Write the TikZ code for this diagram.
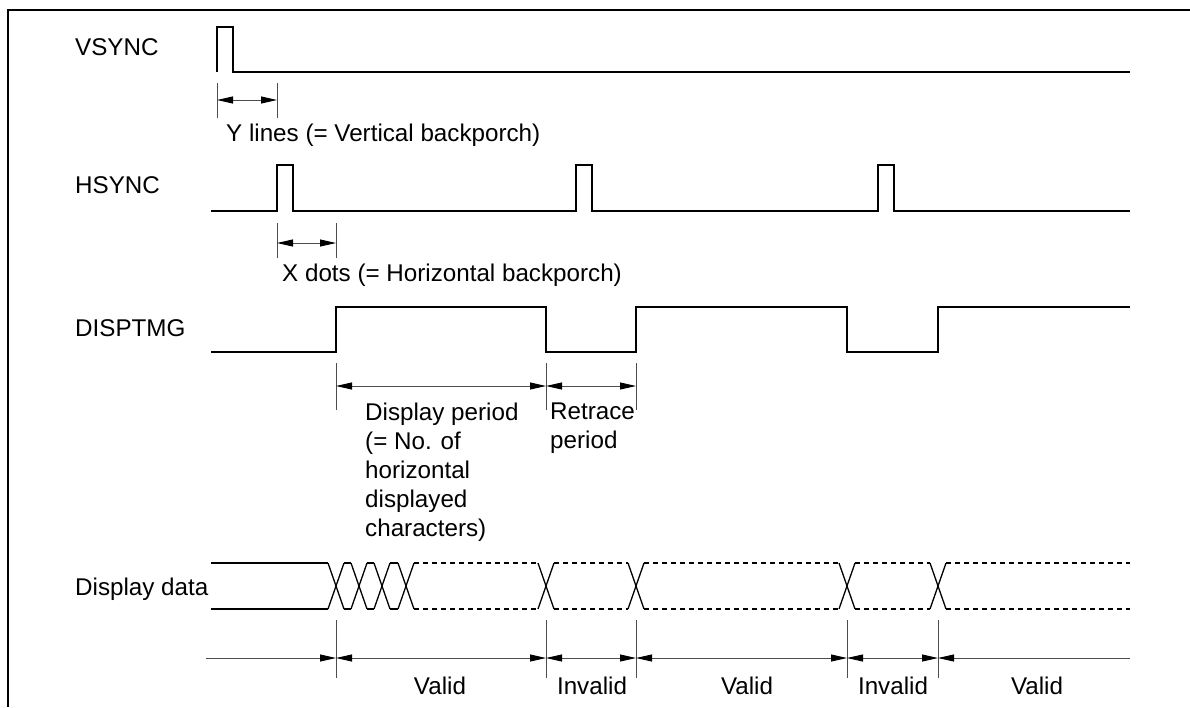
\documentclass[tikz,border=0pt]{standalone}
\usepackage{fontspec}
\setmainfont{Liberation Sans}
\usetikzlibrary{arrows.meta,calc}
\usetikzlibrary{positioning}

\begin{document}
\begin{tikzpicture}[x=1pt,y=-1pt,>={Triangle[length=16pt,width=7pt,black]},line join=miter,
  sig/.style={line width=1.6pt},
  bus/.style={line width=1.3pt},
  dimline/.style={line width=0.9pt,black!70},
  lbl/.style={font=\fontsize{24.2}{29}\selectfont,inner sep=0pt,align=left}]
\useasboundingbox (0,0) rectangle (1190,707);
% frame, top and left edges only
\draw[line width=1.8pt] (1190,10) -- (8,10) -- (8,707);
% signal names
\node[lbl,anchor=base west] (vsync) at (75,55) {VSYNC};
\node[lbl,anchor=base west] (hsync) at (75,193) {HSYNC};
\node[lbl,anchor=base west] (disptmg) at (75,336) {DISPTMG};
\node[lbl,anchor=base west] (ddata) at (75,595) {Display data};
% VSYNC with vertical backporch
\draw[sig] (217,72) -- (217,27) -- (233,27) -- (233,72) -- (1130,72);
\draw[dimline] (217,83) -- (217,118) (277,83) -- (277,118);
\draw[dimline,<->] (217,100) -- (277,100);
\node[lbl,anchor=base west] (ylines) at (226,141) {Y lines (= Vertical backporch)};
% HSYNC with horizontal backporch
\draw[sig] (211,211) \foreach \p in {277,576,878} { -- (\p,211) -- (\p,165) -- ({\p+16},165) -- ({\p+16},211) } -- (1130,211);
\draw[dimline] (277,223) -- (277,258) (336,223) -- (336,258);
\draw[dimline,<->] (277,243) -- (336,243);
\node[lbl,anchor=base west] (xdots) at (282,281) {X dots (= Horizontal backporch)};
% DISPTMG
\draw[sig] (211,352) -- (336,352) -- (336,307) -- (546,307) -- (546,352) -- (636,352) -- (636,307)
  -- (847,307) -- (847,352) -- (938,352) -- (938,307) -- (1130,307);
\foreach \t in {336,546,636} \draw[dimline] (\t,363) -- (\t,410);
\draw[dimline,<->] (336,386) -- (546,386);
\draw[dimline,<->] (546,386) -- (636,386);
\node[lbl,anchor=north west] (dispper) at (365,403) {Display period\\(= No. of\\horizontal\\displayed\\characters)};
\node[lbl,anchor=north west] (retrace) at (550,403) {Retrace\\period};
% display data bus
\draw[bus] (211,563) -- (328,563) (211,609) -- (328,609);
\foreach \c in {336,359,382,406,546,636,847,938}
  \draw[bus] ({\c-8},563) -- ({\c+8},609) ({\c-8},609) -- ({\c+8},563);
\foreach \a/\b in {344/351,367/374,390/398}
  \draw[bus] (\a,563) -- (\b,563) (\a,609) -- (\b,609);
\foreach \a/\b in {414/538,554/628,644/839,855/930,946/1130}
  \draw[bus,dash pattern=on 5pt off 4pt] (\a,563) -- (\b,563) (\a,609) -- (\b,609);
% valid / invalid periods
\foreach \t in {336,546,636,847,938} \draw[dimline] (\t,620) -- (\t,678);
\draw[dimline,->] (206,658) -- (336,658);
\foreach \a/\b in {336/546,546/636,636/847,847/938} \draw[dimline,<->] (\a,658) -- (\b,658);
\draw[dimline,<-] (938,658) -- (1130,658);
\node[lbl,anchor=base] (valid1) at (440,694) {Valid};
\node[lbl,anchor=base] (inval1) at (592,694) {Invalid};
\node[lbl,anchor=base] (valid2) at (747,694) {Valid};
\node[lbl,anchor=base] (inval2) at (893,694) {Invalid};
\node[lbl,anchor=base] (valid3) at (1037,694) {Valid};
\end{tikzpicture}
\end{document}
